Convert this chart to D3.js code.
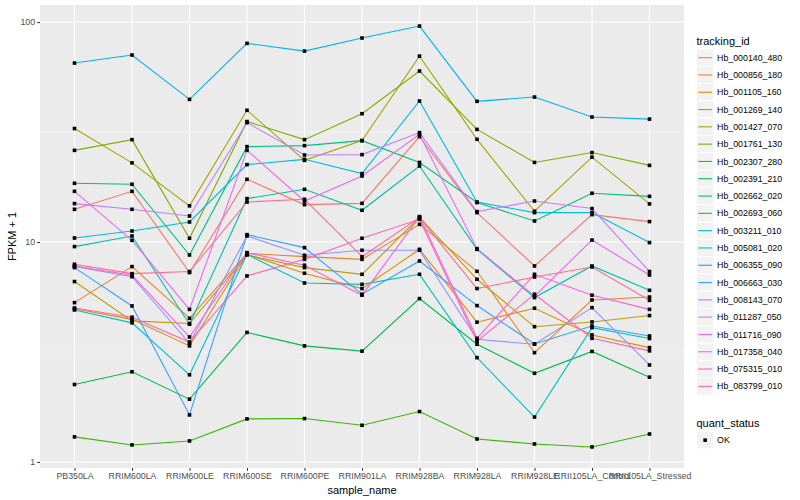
<!DOCTYPE html>
<html><head><meta charset="utf-8">
<script src="https://cdn.jsdelivr.net/npm/d3@7/dist/d3.min.js"></script>
<style>
body{margin:0;background:#fff}
text{font-family:"Liberation Sans",Arial,Helvetica,sans-serif}
</style>
</head><body>
<svg id="chart" width="800" height="500"></svg>
<script>
// ---------- data ----------
const categories = ["PB350LA","RRIM600LA","RRIM600LE","RRIM600SE","RRIM600PE","RRIM901LA","RRIM928BA","RRIM928LA","RRIM928LE","RRII105LA_Control","RRII105LA_Stressed"];
const trackingIds = ["Hb_000140_480","Hb_000856_180","Hb_001105_160","Hb_001269_140","Hb_001427_070","Hb_001761_130","Hb_002307_280","Hb_002391_210","Hb_002662_020","Hb_002693_060","Hb_003211_010","Hb_005081_020","Hb_006355_090","Hb_006663_030","Hb_008143_070","Hb_011287_050","Hb_011716_090","Hb_017358_040","Hb_075315_010","Hb_083799_010"];
const colors = ["#F8766D","#EA8331","#D89000","#C09B00","#A3A500","#7CAE00","#39B600","#00BB4E","#00BF7D","#00C1A3","#00BFC4","#00BAE0","#00B0F6","#35A2FF","#9590FF","#C77CFF","#E76BF3","#FA62DB","#FF62BC","#FF6C91"];

// FPKM + 1 per sample (same order as categories)
const Hb_000140_480 = [14.08,17.00,7.26,19.28,14.79,14.99,30.14,13.60,7.78,13.32,12.38];
const Hb_000856_180 = [5.30,7.73,4.50,8.88,8.58,8.34,12.03,7.36,3.14,5.45,5.62];
const Hb_001105_160 = [4.97,4.45,3.37,8.79,7.21,6.14,9.26,4.32,5.00,3.78,3.31];
const Hb_001269_140 = [6.61,4.38,4.26,8.73,7.65,7.13,12.95,6.77,4.12,4.33,4.63];
const Hb_001427_070 = [32.8,22.9,14.6,39.7,23.5,28.9,70.0,29.3,13.8,24.3,14.9];
const Hb_001761_130 = [26.1,29.2,10.4,35.3,29.2,38.3,59.9,32.5,23.0,25.5,22.3];
const Hb_002307_280 = [1.30,1.195,1.246,1.569,1.575,1.468,1.695,1.272,1.207,1.170,1.340];
const Hb_002391_210 = [2.25,2.57,1.93,3.88,3.37,3.19,5.53,3.43,2.53,3.18,2.43];
const Hb_002662_020 = [18.49,18.30,8.73,27.14,27.43,28.9,23.0,15.11,12.46,16.65,16.13];
const Hb_002693_060 = [9.53,10.65,4.23,15.75,17.36,13.94,22.16,9.26,5.59,7.78,6.03];
const Hb_003211_010 = [4.91,4.29,2.49,8.79,6.51,6.42,7.13,2.98,1.60,4.08,3.64];
const Hb_005081_020 = [10.43,11.22,12.33,22.48,23.76,20.46,43.75,15.20,13.60,13.60,9.94];
const Hb_006355_090 = [65.1,70.8,44.5,80.0,73.8,84.6,95.9,43.6,45.6,37.0,36.2];
const Hb_006663_030 = [7.65,5.12,1.636,10.80,9.43,5.79,8.20,5.14,3.44,4.15,3.74];
const Hb_008143_070 = [7.75,6.95,3.46,10.65,8.70,9.17,9.17,3.61,3.43,5.03,2.76];
const Hb_011287_050 = [14.95,14.08,13.13,34.89,24.86,24.96,31.43,13.75,15.36,14.19,7.34];
const Hb_011716_090 = [17.00,10.18,4.94,26.1,15.36,19.95,30.87,9.33,5.67,10.21,7.08];
const Hb_017358_040 = [7.78,7.06,3.70,8.95,7.84,5.73,13.05,3.65,7.13,5.73,4.94];
const Hb_075315_010 = [5.01,4.55,3.51,7.01,8.34,10.4,12.68,3.54,5.79,3.65,3.20];
const Hb_083799_010 = [7.92,7.18,7.34,15.20,15.64,8.58,12.91,6.14,6.93,7.70,5.43];

const seriesValues = [Hb_000140_480,Hb_000856_180,Hb_001105_160,Hb_001269_140,Hb_001427_070,Hb_001761_130,Hb_002307_280,Hb_002391_210,Hb_002662_020,Hb_002693_060,Hb_003211_010,Hb_005081_020,Hb_006355_090,Hb_006663_030,Hb_008143_070,Hb_011287_050,Hb_011716_090,Hb_017358_040,Hb_075315_010,Hb_083799_010];

const yTicks = [1,10,100];
const yMinor = [Math.sqrt(10), Math.sqrt(1000)];
const statusLabels = ["OK"];

// ---------- layout ----------
const svg = d3.select("#chart");
const P = {left:40, right:684, top:5, bottom:468};

const allVals = seriesValues.flat();
const lo = Math.log10(d3.min(allVals)), hi = Math.log10(d3.max(allVals));
const pad = (hi - lo) * 0.05;
const y = d3.scaleLog().domain([Math.pow(10, lo - pad), Math.pow(10, hi + pad)]).range([P.bottom, P.top]);
const x = d3.scalePoint().domain(categories).range([P.left, P.right]).padding(0.6);

// panel
svg.append("rect").attr("x",P.left).attr("y",P.top).attr("width",P.right-P.left).attr("height",P.bottom-P.top).attr("fill","#EBEBEB");
// minor grid
svg.append("g").selectAll("line").data(yMinor).join("line")
  .attr("x1",P.left).attr("x2",P.right).attr("y1",d=>y(d)).attr("y2",d=>y(d))
  .attr("stroke","#fff").attr("stroke-width",0.55);
// major grid
svg.append("g").selectAll("line").data(yTicks).join("line")
  .attr("x1",P.left).attr("x2",P.right).attr("y1",d=>y(d)).attr("y2",d=>y(d))
  .attr("stroke","#fff").attr("stroke-width",1.1);
svg.append("g").selectAll("line").data(categories).join("line")
  .attr("x1",d=>x(d)).attr("x2",d=>x(d)).attr("y1",P.top).attr("y2",P.bottom)
  .attr("stroke","#fff").attr("stroke-width",1.1);

// axes
const yAxis = d3.axisLeft(y).tickValues(yTicks).tickFormat(d3.format("d")).tickSize(2.75).tickPadding(2.2);
const gy = svg.append("g").attr("transform",`translate(${P.left},0)`).call(yAxis);
const xAxis = d3.axisBottom(x).tickSize(2.75).tickPadding(2.2);
const gx = svg.append("g").attr("transform",`translate(0,${P.bottom})`).call(xAxis);
[gx,gy].forEach(g=>{
  g.select(".domain").remove();
  g.selectAll(".tick line").attr("stroke","#333333").attr("stroke-width",1.07);
  g.selectAll(".tick text").attr("fill","#4D4D4D").style("font-size","8.8px").style("font-family","'Liberation Sans',Arial,sans-serif");
});

// axis titles
svg.append("text").attr("x",(P.left+P.right)/2).attr("y",493.5).attr("text-anchor","middle")
  .style("font-size","11px").attr("fill","#000").text("sample_name");
svg.append("text").attr("transform",`translate(15.5,${(P.top+P.bottom)/2}) rotate(-90)`).attr("text-anchor","middle")
  .style("font-size","11px").attr("fill","#000").text("FPKM + 1");

// lines
const line = d3.line().x((d,i)=>x(categories[i])).y(d=>y(d));
svg.append("g").selectAll("path").data(seriesValues).join("path")
  .attr("d",d=>line(d)).attr("fill","none")
  .attr("stroke",(d,i)=>colors[i]).attr("stroke-width",1.1);

// points
const pts = [];
seriesValues.forEach((vals,si)=>vals.forEach((v,ci)=>pts.push({c:categories[ci],v})));
const ps = 3.6;
svg.append("g").selectAll("rect").data(pts).join("rect")
  .attr("x",d=>x(d.c)-ps/2).attr("y",d=>y(d.v)-ps/2).attr("width",ps).attr("height",ps).attr("fill","#000");

// legend: tracking_id
const L = {x:696.5, keyW:17.3, top:49};
const lg = svg.append("g");
lg.append("text").attr("x",L.x).attr("y",44.5).style("font-size","11px").attr("fill","#000").text("tracking_id");
const items = lg.selectAll("g.item").data(trackingIds).join("g").attr("class","item")
  .attr("transform",(d,i)=>`translate(${L.x},${L.top + i*L.keyW})`);
items.append("rect").attr("width",L.keyW).attr("height",L.keyW).attr("fill","#F2F2F2").attr("stroke","#fff").attr("stroke-width",1);
items.append("line").attr("x1",1.7).attr("x2",L.keyW-1.7).attr("y1",L.keyW/2).attr("y2",L.keyW/2)
  .attr("stroke",(d,i)=>colors[i]).attr("stroke-width",1.1);
items.append("text").attr("x",L.keyW+3.3).attr("y",L.keyW/2+3.1).style("font-size","8.8px").attr("fill","#000").text(d=>d);

// legend: quant_status
const q0 = L.top + trackingIds.length*L.keyW;
lg.append("text").attr("x",L.x).attr("y",q0+31.5).style("font-size","11px").attr("fill","#000").text("quant_status");
const qi = lg.selectAll("g.q").data(statusLabels).join("g").attr("class","q")
  .attr("transform",(d,i)=>`translate(${L.x},${q0+36.5+i*L.keyW})`);
qi.append("rect").attr("width",L.keyW).attr("height",L.keyW).attr("fill","#F2F2F2").attr("stroke","#fff");
qi.append("rect").attr("x",L.keyW/2-ps/2).attr("y",L.keyW/2-ps/2).attr("width",ps).attr("height",ps).attr("fill","#000");
qi.append("text").attr("x",L.keyW+3.3).attr("y",L.keyW/2+3.1).style("font-size","8.8px").attr("fill","#000").text(d=>d);
</script>
</body></html>
